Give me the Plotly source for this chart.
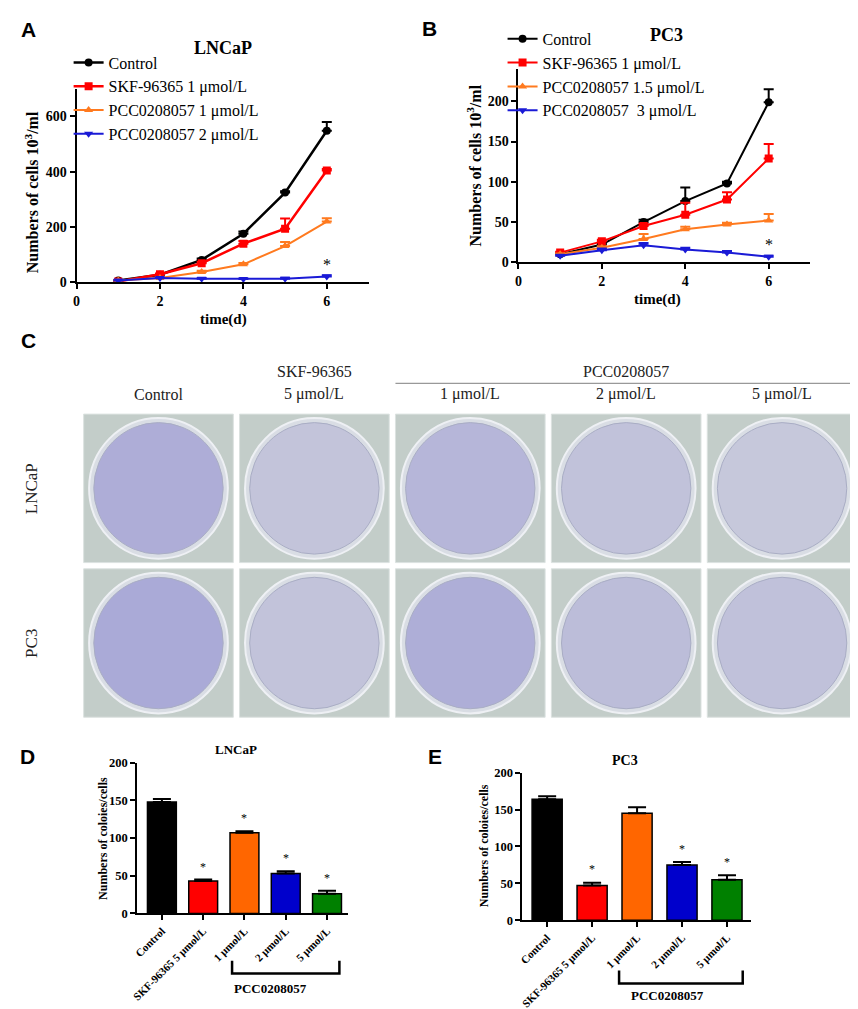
import plotly.graph_objects as go

W, H = 858, 1009
SERIF = "Liberation Serif"
SANS = "Liberation Sans"

# ---------------- data ----------------
days = [1, 2, 3, 4, 5, 6]

# Panel A: LNCaP growth
a_names = ["Control", "SKF-96365 1 μmol/L", "PCC0208057 1 μmol/L", "PCC0208057 2 μmol/L"]
a_ctrl = [5, 26, 80, 175, 324, 548]
a_ctrl_err = [1, 2, 5, 8, 5, 32]
a_skf = [2, 28, 68, 139, 193, 404]
a_skf_err = [1, 3, 4, 10, 37, 6]
a_pcc1 = [5, 14, 36, 64, 130, 219]
a_pcc1_err = [1, 2, 5, 5, 15, 12]
a_pcc2 = [5, 14, 12, 11, 12, 20]
a_pcc2_err = [1, 2, 2, 2, 3, 4]

# Panel B: PC3 growth
b_names = ["Control", "SKF-96365 1 μmol/L", "PCC0208057 1.5 μmol/L", "PCC0208057  3 μmol/L"]
b_ctrl = [10, 22, 50, 76, 98, 199]
b_ctrl_err = [1, 2, 3, 17, 2, 16]
b_skf = [12, 26, 45, 59, 78, 129]
b_skf_err = [1, 2, 3, 15, 9, 18]
b_pcc1 = [10, 18, 29, 41, 47, 52]
b_pcc1_err = [1, 2, 6, 3, 2, 8]
b_pcc2 = [8, 15, 21, 16, 12, 7]
b_pcc2_err = [1, 2, 3, 2, 2, 1]

# Panel C: plate layout
c_cols = ["Control", "5 μmol/L", "1 μmol/L", "2 μmol/L", "5 μmol/L"]
c_rows = ["LNCaP", "PC3"]

# Panels D / E: colony numbers
bar_labels = ["Control", "SKF-96365 5 μmol/L", "1 μmol/L", "2 μmol/L", "5 μmol/L"]
bar_colors = ["#000000", "#FF0000", "#FF6600", "#0000CC", "#008000"]
d_vals = [148, 43, 107, 53, 26]
d_err = [4, 2, 2, 3, 4]
d_star = [False, True, True, True, True]
e_vals = [164, 47, 145, 75, 55]
e_err = [4, 4, 8, 4, 6]
e_star = [False, True, False, True, True]


def px(x):
    return x / W


def py(y):
    return 1 - y / H


fig = go.Figure()

line_colors = ["#000000", "#FF0000", "#FF7A1F", "#1A1AD6"]
symbols = ["circle", "square", "triangle-up", "triangle-down"]
widths = [2.5, 2.5, 2, 2]

a_series = [(a_ctrl, a_ctrl_err), (a_skf, a_skf_err), (a_pcc1, a_pcc1_err), (a_pcc2, a_pcc2_err)]
for i, (vals, err) in enumerate(a_series):
    fig.add_trace(go.Scatter(
        x=days, y=vals, name=a_names[i], mode="lines+markers",
        line=dict(color=line_colors[i], width=widths[i]),
        marker=dict(symbol=symbols[i], size=8, color=line_colors[i]),
        error_y=dict(type="data", array=err, arrayminus=[0] * len(err), symmetric=False,
                     color=line_colors[i], thickness=2, width=5),
        xaxis="x", yaxis="y", legend="legend"))

b_series = [(b_ctrl, b_ctrl_err), (b_skf, b_skf_err), (b_pcc1, b_pcc1_err), (b_pcc2, b_pcc2_err)]
for i, (vals, err) in enumerate(b_series):
    fig.add_trace(go.Scatter(
        x=days, y=vals, name=b_names[i], mode="lines+markers",
        line=dict(color=line_colors[i], width=2),
        marker=dict(symbol=symbols[i], size=8, color=line_colors[i]),
        error_y=dict(type="data", array=err, arrayminus=[0] * len(err), symmetric=False,
                     color=line_colors[i], thickness=2, width=5),
        xaxis="x2", yaxis="y2", legend="legend2"))

cats = list(range(len(bar_labels)))
fig.add_trace(go.Bar(
    x=cats, y=d_vals, width=0.7, marker=dict(color=bar_colors, line=dict(color="#000", width=1.5)),
    error_y=dict(type="data", array=d_err, arrayminus=[0] * 5, symmetric=False,
                 color="#000", thickness=2, width=9),
    xaxis="x3", yaxis="y3", showlegend=False))
fig.add_trace(go.Bar(
    x=cats, y=e_vals, width=0.67, marker=dict(color=bar_colors, line=dict(color="#000", width=1.5)),
    error_y=dict(type="data", array=e_err, arrayminus=[0] * 5, symmetric=False,
                 color="#000", thickness=2, width=9),
    xaxis="x4", yaxis="y4", showlegend=False))

# invisible trace for panel C axes
fig.add_trace(go.Scatter(x=[0, 4], y=[0, 1], mode="markers", marker=dict(opacity=0),
                         xaxis="x5", yaxis="y5", showlegend=False, hoverinfo="skip"))

axis_common = dict(showgrid=False, zeroline=False, showline=True, linecolor="#000",
                   ticks="outside", tickcolor="#000", ticklen=5)

tick_font = dict(family=SERIF, size=14, color="#000", weight="bold")
bar_tick = dict(family=SERIF, size=11, color="#000", weight="bold")
bar_ytick = dict(family=SERIF, size=12.5, color="#000", weight="bold")
leg_font = dict(family=SERIF, size=16, color="#000")
fig.update_layout(
    width=W, height=H, margin=dict(l=0, r=0, t=0, b=0),
    paper_bgcolor="white", plot_bgcolor="rgba(0,0,0,0)",
    font=dict(family=SERIF, color="#000"),
    xaxis=dict(**axis_common, domain=[px(63), px(357)], range=[0, 7], tickvals=[0, 2, 4, 6],
               linewidth=2, tickwidth=2, tickfont=tick_font, anchor="y"),
    yaxis=dict(**axis_common, domain=[py(271), py(75)], range=[0, 700], tickvals=[0, 200, 400, 600],
               linewidth=2, tickwidth=2, tickfont=tick_font, anchor="x"),
    xaxis2=dict(**axis_common, domain=[px(508), px(802)], range=[0, 7], tickvals=[0, 2, 4, 6],
                linewidth=2, tickwidth=2, tickfont=tick_font, anchor="y2"),
    yaxis2=dict(**axis_common, domain=[py(251), py(55)], range=[0, 240], tickvals=[0, 50, 100, 150, 200],
                linewidth=2, tickwidth=2, tickfont=tick_font, anchor="x2"),
    xaxis3=dict(**axis_common, domain=[px(124), px(336)], range=[-0.6, 4.5], tickvals=cats,
                ticktext=bar_labels, tickangle=-45, linewidth=2, tickwidth=2,
                tickfont=bar_tick, anchor="y3"),
    yaxis3=dict(**axis_common, domain=[py(912), py(759)], range=[0, 200], tickvals=[0, 50, 100, 150, 200],
                linewidth=2, tickwidth=2, tickfont=bar_ytick, anchor="x3"),
    xaxis4=dict(**axis_common, domain=[px(512), px(742)], range=[-0.55, 4.53], tickvals=cats,
                ticktext=bar_labels, tickangle=-45, linewidth=2, tickwidth=2,
                tickfont=bar_tick, anchor="y4"),
    yaxis4=dict(**axis_common, domain=[py(919), py(769)], range=[0, 200], tickvals=[0, 50, 100, 150, 200],
                linewidth=2, tickwidth=2, tickfont=bar_ytick, anchor="x4"),
    xaxis5=dict(domain=[px(67), px(852)], range=[-0.5, 4.5], visible=False, anchor="y5"),
    yaxis5=dict(domain=[py(716), py(402)], range=[1.5, -0.5], visible=False, anchor="x5"),
    legend=dict(x=px(55), y=py(31), xanchor="left", yanchor="top", bgcolor="rgba(0,0,0,0)",
                font=leg_font, itemwidth=30, tracegroupgap=0),
    legend2=dict(x=px(492), y=py(7), xanchor="left", yanchor="top", bgcolor="rgba(0,0,0,0)",
                 font=leg_font, itemwidth=30, tracegroupgap=0),
    bargap=0.3,
)

ann = []


def text(x, y, s, size, bold=False, family=SERIF, angle=0, xref="paper", yref="paper", color="#000"):
    ann.append(dict(x=x, y=y, xref=xref, yref=yref, text=s, showarrow=False, textangle=angle,
                    font=dict(family=family, size=size, color=color, weight="bold" if bold else "normal"),
                    xanchor="center", yanchor="middle"))


# panel letters
for lab, x, y in [("A", 15, 15), ("B", 418, 14), ("C", 15, 330), ("D", 14, 753), ("E", 424, 753)]:
    text(px(x), py(y), lab, 21, bold=True, family=SANS)

# panel A/B titles and axis titles
text(px(210), py(33), "LNCaP", 18, bold=True)
text(px(657), py(20), "PC3", 18, bold=True)
text(px(18), py(180), "Numbers of cells 10<sup>3</sup>/ml", 16, bold=True, angle=-90)
text(px(463), py(153), "Numbers of cells 10<sup>3</sup>/ml", 16, bold=True, angle=-90)
text(px(211), py(309), "time(d)", 15, bold=True)
text(px(648), py(289), "time(d)", 15, bold=True)
text(6, 62, "*", 16, xref="x", yref="y")
text(6, 22, "*", 16, xref="x2", yref="y2")

# panel D/E titles
text(px(224), py(746), "LNCaP", 13, bold=True)
text(px(615), py(757), "PC3", 14, bold=True)
text(px(89), py(836), "Numbers of coloies/cells", 12, bold=True, angle=-90)
text(px(474), py(843), "Numbers of coloies/cells", 12, bold=True, angle=-90)
for i in cats:
    if d_star[i]:
        text(i, d_vals[i] + d_err[i] + 17, "*", 12, xref="x3", yref="y3")
    if e_star[i]:
        text(i, e_vals[i] + e_err[i] + 18, "*", 12, xref="x4", yref="y4")
text(px(258), py(988), "PCC0208057", 13, bold=True)
text(px(658), py(995), "PCC0208057", 13, bold=True)

# panel C headers
for i, lab in enumerate(c_cols):
    text(i, py(385), lab, 16, xref="x5", color="#222")
text(1, py(362), "SKF-96365", 16, xref="x5", color="#222")
text(3, py(362), "PCC0208057", 16, xref="x5", color="#222")
for j, lab in enumerate(c_rows):
    text(px(17), j, lab, 17, angle=-90, yref="y5", color="#222")

fig.update_layout(annotations=ann)

shapes = []
# brackets under PCC0208057
for xr, y0, y1, xa, xb in [("x3", 960, 973, 1.7, 4.3), ("x4", 970, 983, 1.6, 4.35)]:
    shapes.append(dict(type="path", xref=xr, yref="paper",
                       path=f"M {xa},{py(y0)} L {xa},{py(y1)} L {xb},{py(y1)} L {xb},{py(y0)}",
                       line=dict(color="#000", width=2.5)))
# line under PCC0208057 header in C
shapes.append(dict(type="line", xref="x5", yref="paper", x0=1.52, x1=4.52, y0=py(374), y1=py(374),
                   line=dict(color="#999", width=1.2)))

# plates (interior tint scaled by colony counts)
colony = [d_vals, e_vals]
cmax = 200.0
for j in range(2):
    for i in range(5):
        frac = colony[j][i] / cmax * 0.28
        r = int(204 + (60 - 204) * frac)
        g = int(206 + (50 - 206) * frac)
        b = int(220 + (200 - 220) * frac)
        shapes.append(dict(type="rect", xref="x5", yref="y5", x0=i - 0.48, x1=i + 0.48,
                           y0=j - 0.48, y1=j + 0.48, fillcolor="#C3CDC9",
                           line=dict(color="#DCE2E0", width=1), layer="below"))
        shapes.append(dict(type="circle", xref="x5", yref="y5", x0=i - 0.445, x1=i + 0.445,
                           y0=j - 0.455, y1=j + 0.455, fillcolor="#D9DDE4",
                           line=dict(color="#EEF0F4", width=2), layer="below"))
        shapes.append(dict(type="circle", xref="x5", yref="y5", x0=i - 0.415, x1=i + 0.415,
                           y0=j - 0.425, y1=j + 0.425, fillcolor=f"rgb({r},{g},{b})",
                           line=dict(color="#A9ADC4", width=1), layer="below"))
fig.update_layout(shapes=shapes)

fig.write_html("out.html")
